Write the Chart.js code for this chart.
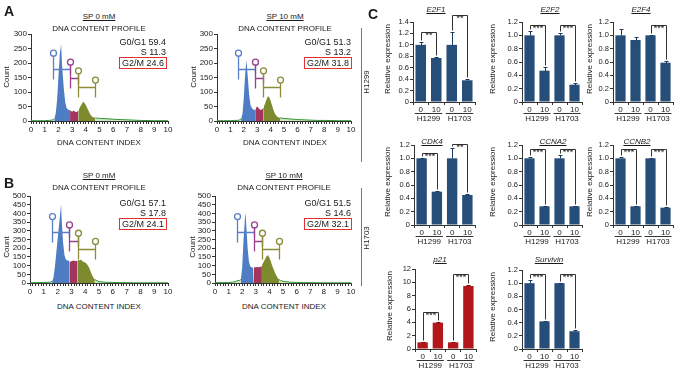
<!DOCTYPE html>
<html>
<head>
<meta charset="utf-8">
<script src="https://cdn.jsdelivr.net/npm/chart.js@4.4.1/dist/chart.umd.min.js"></script>
<style>
  body { margin: 0; width: 677px; height: 373px; background: #fff; position: relative; overflow: hidden;
         font-family: "Liberation Sans", Arial, sans-serif; color: #1a1a1a; }
  canvas { position: absolute; }
  .lbl { position: absolute; white-space: nowrap; line-height: 1; transform: translate(-50%, -50%); }
  .rot { transform: translate(-50%, -50%) rotate(-90deg); }
  .right { transform: translate(-100%, -50%); }
  .panel { font-weight: bold; font-size: 14px; }
  .gene { font-style: italic; text-decoration: underline; font-size: 8px; }
  .sp { text-decoration: underline; font-size: 8px; }
  .small { font-size: 8px; }
  .stat { font-size: 9px; }
  .box { border: 1px solid #e03030; padding: 1px 2px 0 2px; }
  .vline { position: absolute; width: 0; border-left: 1px solid #777; }
</style>
</head>
<body>
<script>
Chart.defaults.font.family = '"Liberation Sans", Arial, sans-serif';
Chart.defaults.color = '#1a1a1a';

// ---- panel A / B : DNA content histograms
const dnaIndex = [0, 0.5, 1.0, 1.3, 1.5, 1.6, 1.7, 1.8, 1.9, 2.0, 2.1, 2.2, 2.25, 2.3, 2.4, 2.5, 2.6, 2.7, 2.8, 2.85,
                  2.9, 3.0, 3.1, 3.2, 3.3, 3.4, 3.45, 3.5, 3.6, 3.7, 3.8, 3.9, 4.0, 4.1, 4.2, 4.3, 4.4, 4.5, 4.6, 4.7,
                  4.8, 5.0, 5.5, 6.0, 6.5, 7.0, 7.5, 8.0, 9.0, 10.0];
const countH1299_0 = [1, 1, 1, 2, 3, 4, 8, 25, 70, 150, 230, 265, 210, 170, 110, 65, 45, 40, 38, 36,
                      35, 32, 36, 33, 30, 34, 36, 40, 50, 58, 66, 62, 55, 45, 35, 25, 18, 14, 12, 11,
                      10, 9, 8, 6, 5, 4, 3, 2, 1, 1];
const countH1299_10 = [1, 1, 1, 2, 2, 3, 4, 8, 25, 80, 160, 210, 180, 150, 90, 55, 45, 40, 38, 40,
                       45, 50, 45, 40, 38, 42, 45, 50, 62, 75, 85, 82, 70, 55, 40, 28, 20, 15, 12, 11,
                       10, 9, 7, 5, 4, 3, 2, 2, 1, 1];
const countH1703_0 = [2, 2, 3, 4, 6, 10, 30, 90, 170, 250, 330, 410, 452, 360, 230, 160, 135, 130, 128, 125,
                      122, 125, 128, 130, 125, 128, 130, 132, 130, 135, 125, 120, 118, 110, 100, 85, 65, 45, 30, 20,
                      15, 8, 4, 3, 2, 2, 1, 1, 1, 1];
const countH1703_10 = [2, 2, 3, 5, 8, 12, 14, 15, 20, 90, 250, 370, 404, 330, 200, 120, 95, 90, 88, 88,
                       90, 90, 92, 90, 92, 95, 100, 110, 125, 140, 155, 160, 145, 125, 100, 80, 60, 45, 30, 20,
                       15, 10, 5, 3, 2, 2, 1, 1, 1, 1];
const statsH1299_0 = ['G0/G1 59.4', 'S 11.3', 'G2/M 24.6'];
const statsH1299_10 = ['G0/G1 51.3', 'S 13.2', 'G2/M 31.8'];
const statsH1703_0 = ['G0/G1 57.1', 'S 17.8', 'G2/M 24.1'];
const statsH1703_10 = ['G0/G1 51.5', 'S 14.6', 'G2/M 32.1'];
// gate limits on the DNA index axis: G0/G1 | S | G2/M
const gateLimits = [1.6, 2.85, 3.45, 4.68];
const gateCircles300 = [234, 203, 173, 141];
const gateBars300 = [178, 150, 116];
const gateCircles500 = [382, 334, 286, 239];
const gateBars500 = [292, 244, 195];

// ---- panel C : relative expression (0 / 10 mM in H1299 and H1703)
const doseLabels = ['0', '10', '0', '10'];
const cellLines = ['H1299', 'H1703'];
const e2f1 = [1.0, 0.77, 1.0, 0.38],      e2f1Err = [0.05, 0.01, 0.23, 0.02];
const e2f2 = [1.0, 0.47, 1.0, 0.26],      e2f2Err = [0.07, 0.06, 0.03, 0.03];
const e2f4 = [1.0, 0.93, 1.0, 0.59],      e2f4Err = [0.09, 0.05, 0.01, 0.02];
const cdk4 = [1.0, 0.50, 1.0, 0.45],      cdk4Err = [0.01, 0.01, 0.15, 0.01];
const ccna2 = [1.0, 0.28, 1.0, 0.28],     ccna2Err = [0.02, 0.01, 0.05, 0.01];
const ccnb2 = [1.0, 0.28, 1.0, 0.26],     ccnb2Err = [0.02, 0.01, 0.01, 0.01];
const p21 = [1.0, 3.95, 1.0, 9.45],       p21Err = [0.05, 0.1, 0.05, 0.2];
const survivin = [1.0, 0.42, 1.0, 0.27],  survivinErr = [0.05, 0.01, 0.01, 0.02];
// significance: [bar a, bar b, stars, bracket level]
const e2f1Sig = [[0, 1, '**', 1.23], [2, 3, '**', 1.52]];
const e2f2Sig = [[0, 1, '***', 1.16], [2, 3, '***', 1.16]];
const e2f4Sig = [[2, 3, '***', 1.16]];
const cdk4Sig = [[0, 1, '***', 1.08], [2, 3, '**', 1.22]];
const ccna2Sig = [[0, 1, '***', 1.14], [2, 3, '***', 1.14]];
const ccnb2Sig = [[0, 1, '***', 1.14], [2, 3, '***', 1.14]];
const p21Sig = [[0, 1, '***', 5.6], [2, 3, '***', 11.2]];
const survivinSig = [[0, 1, '***', 1.14], [2, 3, '***', 1.14]];

function addCanvas(left, top, w, h) {
    const c = document.createElement('canvas');
    c.width = w; c.height = h;
    c.style.left = left + 'px'; c.style.top = top + 'px';
    c.style.width = w + 'px'; c.style.height = h + 'px';
    document.body.appendChild(c);
    return c;
}

function addText(txt, x, y, cls) {
    const d = document.createElement('div');
    d.className = 'lbl ' + cls;
    d.textContent = txt;
    d.style.left = x + 'px'; d.style.top = y + 'px';
    document.body.appendChild(d);
    return d;
}

function addLine(x, y1, y2) {
    const d = document.createElement('div');
    d.className = 'vline';
    d.style.left = x + 'px'; d.style.top = y1 + 'px'; d.style.height = (y2 - y1) + 'px';
    document.body.appendChild(d);
}

// gate markers (circle + bracket) drawn through the chart scales
const gatePlugin = {
    id: 'gates',
    afterDatasetsDraw(chart, args, o) {
        const { ctx, scales: { x, y } } = chart;
        const cols = ['#5a7ec9', '#9a3f8e', '#8b8b3a'];
        ctx.save();
        ctx.lineWidth = 1.3;
        for (let i = 0; i < 3; i++) {
            const xl = Math.round(x.getPixelForValue(gateLimits[i])) + 0.5;
            const xr = Math.round(x.getPixelForValue(gateLimits[i + 1])) + 0.5;
            const yc = y.getPixelForValue(o.circles[i]);
            const yb = Math.round(y.getPixelForValue(o.bars[i])) + 0.5;
            ctx.strokeStyle = cols[i];
            ctx.beginPath();
            ctx.moveTo(xl, yc + 3); ctx.lineTo(xl, yb + 10);
            ctx.moveTo(xl, yb); ctx.lineTo(xr, yb);
            if (i < 2) { ctx.moveTo(xr, yb - 5); ctx.lineTo(xr, yb + 5); }
            ctx.stroke();
            ctx.beginPath(); ctx.arc(xl, yc, 3, 0, Math.PI * 2); ctx.stroke();
            if (i === 2) {
                const yc2 = y.getPixelForValue(o.circles[3]);
                ctx.beginPath();
                ctx.moveTo(xr, yc2 + 3); ctx.lineTo(xr, yb + 10);
                ctx.stroke();
                ctx.beginPath(); ctx.arc(xr, yc2, 3, 0, Math.PI * 2); ctx.stroke();
            }
        }
        ctx.restore();
    }
};

function histChart(rect, counts, yMax, yStep, g1From, circles, bars) {
    const yW = 24, padT = 6, padR = 8, xH = 12;
    const left = rect.l - yW, top = rect.t - padT;
    const cv = addCanvas(left, top, rect.r + padR - left, rect.b + xH - top);
    const pts = dnaIndex.map((x, i) => ({ x: x, y: counts[i] }));
    const part = (a, b) => pts.filter(p => p.x >= a && p.x <= b);
    const area = (data, color) => ({ data: data, backgroundColor: color, borderWidth: 0, pointRadius: 0, fill: 'origin', order: 1 });
    const rest = data => ({ data: data, borderColor: '#2f9a2f', backgroundColor: 'rgba(110,180,80,0.35)', borderWidth: 1,
                            pointRadius: 0, fill: 'origin', order: 5 });
    new Chart(cv, {
        type: 'line',
        data: {
            datasets: [
                area(part(g1From, gateLimits[1]), '#4f7dc4'),
                area(part(gateLimits[1], gateLimits[2]), '#a3355e'),
                area(part(gateLimits[2], 4.7), '#7e8a2e'),
                rest(part(0, g1From)),
                rest(part(4.7, 10))
            ]
        },
        options: {
            responsive: false, animation: false, devicePixelRatio: 1,
            layout: { padding: { top: padT, right: padR, left: 0, bottom: 0 } },
            plugins: { legend: { display: false }, tooltip: { enabled: false }, gates: { circles: circles, bars: bars } },
            scales: {
                x: {
                    type: 'linear', min: 0, max: 10,
                    afterFit: s => { s.height = xH; },
                    grid: { drawOnChartArea: false, tickLength: 3, color: '#333' },
                    border: { color: '#333' },
                    ticks: {
                        stepSize: 0.2, autoSkip: false, maxRotation: 0, padding: 1, font: { size: 8 }, color: '#222',
                        callback: v => Math.abs(v - Math.round(v)) < 1e-6 ? String(Math.round(v)) : ''
                    }
                },
                y: {
                    min: 0, max: yMax,
                    afterFit: s => { s.width = yW; },
                    grid: { drawOnChartArea: false, tickLength: 3, color: '#333' },
                    border: { color: '#333' },
                    ticks: { stepSize: yStep, autoSkip: false, padding: 1, font: { size: 8 }, color: '#222' }
                }
            }
        },
        plugins: [gatePlugin]
    });
}

// error bars, significance brackets and cell line groups
const barExtras = {
    id: 'extras',
    afterDatasetsDraw(chart, args, o) {
        const { ctx, scales: { y }, chartArea } = chart;
        const bars = chart.getDatasetMeta(0).data;
        const px = v => Math.round(y.getPixelForValue(v)) + 0.5;
        ctx.save();
        ctx.lineWidth = 1;
        ctx.strokeStyle = o.errColor;
        o.vals.forEach((v, i) => {
            const bx = Math.round(bars[i].x) + 0.5;
            const t = px(v + o.errs[i]);
            ctx.beginPath();
            ctx.moveTo(bx, px(v)); ctx.lineTo(bx, t);
            ctx.moveTo(bx - 2, t); ctx.lineTo(bx + 2, t);
            ctx.stroke();
        });
        ctx.strokeStyle = '#333';
        ctx.fillStyle = '#222';
        ctx.textAlign = 'center';
        o.sig.forEach(s => {
            const x1 = Math.round(bars[s[0]].x) + 0.5, x2 = Math.round(bars[s[1]].x) + 0.5;
            const yl = px(s[3]);
            ctx.beginPath();
            ctx.moveTo(x1, px(o.vals[s[0]] + o.errs[s[0]]) - 2);
            ctx.lineTo(x1, yl); ctx.lineTo(x2, yl);
            ctx.lineTo(x2, px(o.vals[s[1]] + o.errs[s[1]]) - 2);
            ctx.stroke();
            ctx.font = '9px "Liberation Sans", Arial, sans-serif';
            ctx.textBaseline = 'alphabetic';
            ctx.fillText(s[2], (x1 + x2) / 2, yl + 5);
        });
        // groups under the dose labels
        ctx.font = '8px "Liberation Sans", Arial, sans-serif';
        const yu = Math.round(chartArea.bottom + 11) + 0.5;
        cellLines.forEach((name, g) => {
            const a = bars[g * 2].x - 6, b = bars[g * 2 + 1].x + 6;
            ctx.beginPath(); ctx.moveTo(a, yu); ctx.lineTo(b, yu); ctx.stroke();
            ctx.textBaseline = 'top';
            ctx.fillText(name, (a + b) / 2, yu + 1);
        });
        ctx.restore();
    }
};

function barChart(rect, vals, errs, sig, yMax, yStep, color, errColor, fmt) {
    const yW = 18, padT = 20, padR = 4, xH = 22;
    const left = rect.l - yW, top = rect.t - padT;
    const cv = addCanvas(left, top, rect.r + padR - left, rect.b + xH - top);
    new Chart(cv, {
        type: 'bar',
        data: {
            labels: doseLabels,
            datasets: [{ data: vals, backgroundColor: color, barPercentage: 0.68, categoryPercentage: 1 }]
        },
        options: {
            responsive: false, animation: false, devicePixelRatio: 1,
            layout: { padding: { top: padT, right: padR, left: 0, bottom: 0 } },
            plugins: { legend: { display: false }, tooltip: { enabled: false },
                       extras: { vals: vals, errs: errs, sig: sig, errColor: errColor } },
            scales: {
                x: {
                    afterFit: s => { s.height = xH; },
                    grid: { offset: true, drawOnChartArea: false, tickLength: 3, color: '#333' },
                    border: { color: '#333' },
                    ticks: { padding: 0, font: { size: 8 }, color: '#222', maxRotation: 0, autoSkip: false }
                },
                y: {
                    min: 0, max: yMax,
                    afterFit: s => { s.width = yW; },
                    grid: { drawOnChartArea: false, tickLength: 3, color: '#333' },
                    border: { color: '#333' },
                    ticks: { stepSize: yStep, autoSkip: false, padding: 1, font: { size: 7.5 }, color: '#222',
                             callback: v => v === 0 ? '0' : fmt(v) }
                }
            }
        },
        plugins: [barExtras]
    });
}

// ---------- panel A (H1299) and B (H1703)
histChart({ l: 31, t: 34, r: 168, b: 121 }, countH1299_0, 300, 50, 1.7, gateCircles300, gateBars300);
histChart({ l: 217, t: 34, r: 351, b: 121 }, countH1299_10, 300, 50, 1.8, gateCircles300, gateBars300);
histChart({ l: 30, t: 196, r: 168, b: 283 }, countH1703_0, 500, 50, 1.6, gateCircles500, gateBars500);
histChart({ l: 215, t: 196, r: 351, b: 283 }, countH1703_10, 500, 50, 1.9, gateCircles500, gateBars500);

const histText = [
    { sp: 'SP 0 mM', cx: 99, y0: 17, stats: statsH1299_0, sx: 166, sy: 42 },
    { sp: 'SP 10 mM', cx: 285, y0: 17, stats: statsH1299_10, sx: 351, sy: 42 },
    { sp: 'SP 0 mM', cx: 99, y0: 176, stats: statsH1703_0, sx: 166, sy: 203 },
    { sp: 'SP 10 mM', cx: 284, y0: 176, stats: statsH1703_10, sx: 351, sy: 203 }
];
histText.forEach(h => {
    addText(h.sp, h.cx, h.y0, 'sp');
    addText('DNA CONTENT PROFILE', h.cx, h.y0 + 12, 'small');
    addText('DNA CONTENT INDEX', h.cx, h.y0 + 126 + (h.y0 > 100 ? 5 : 0), 'small');
    addText('Count', h.cx - (h.cx < 150 ? 92 : 91), h.y0 + 60 + (h.y0 > 100 ? 11 : 0), 'small rot');
    addText(h.stats[0], h.sx, h.sy, 'stat right');
    addText(h.stats[1], h.sx, h.sy + 10, 'stat right');
    addText(h.stats[2], h.sx + 1, h.sy + 21, 'stat right box');
});
addText('A', 9, 11, 'panel');
addText('B', 9, 183, 'panel');
addLine(361, 28, 162);
addText('H1299', 367, 82, 'small rot');
addLine(361, 188, 286);
addText('H1703', 367, 238, 'small rot');

// ---------- panel C
addText('C', 373, 14, 'panel');
const dec1 = v => v.toFixed(1);
const int0 = v => String(v);
const blue = '#264e78', navy = '#1b3a5c';
const genes = [
    { name: 'E2F1', v: e2f1, e: e2f1Err, s: e2f1Sig, max: 1.4, step: 0.2, r: { l: 413, t: 22, r: 475, b: 102 }, tx: 436, ty: 10, lx: 388 },
    { name: 'E2F2', v: e2f2, e: e2f2Err, s: e2f2Sig, max: 1.2, step: 0.2, r: { l: 522, t: 22, r: 582, b: 102 }, tx: 550, ty: 10, lx: 493 },
    { name: 'E2F4', v: e2f4, e: e2f4Err, s: e2f4Sig, max: 1.2, step: 0.2, r: { l: 613, t: 22, r: 673, b: 102 }, tx: 641, ty: 10, lx: 590 },
    { name: 'CDK4', v: cdk4, e: cdk4Err, s: cdk4Sig, max: 1.2, step: 0.2, r: { l: 414, t: 145, r: 475, b: 225 }, tx: 432, ty: 142, lx: 388 },
    { name: 'CCNA2', v: ccna2, e: ccna2Err, s: ccna2Sig, max: 1.2, step: 0.2, r: { l: 522, t: 145, r: 582, b: 225 }, tx: 553, ty: 142, lx: 493 },
    { name: 'CCNB2', v: ccnb2, e: ccnb2Err, s: ccnb2Sig, max: 1.2, step: 0.2, r: { l: 613, t: 145, r: 673, b: 225 }, tx: 637, ty: 142, lx: 590 },
    { name: 'p21', v: p21, e: p21Err, s: p21Sig, max: 12, step: 2, r: { l: 415, t: 269, r: 476, b: 349 }, tx: 440, ty: 260, lx: 390, red: true },
    { name: 'Survivin', v: survivin, e: survivinErr, s: survivinSig, max: 1.2, step: 0.2, r: { l: 522, t: 270, r: 582, b: 349 }, tx: 549, ty: 260, lx: 493 }
];
genes.forEach(g => {
    barChart(g.r, g.v, g.e, g.s, g.max, g.step, g.red ? '#b3171c' : blue, g.red ? '#7a0f12' : navy,
             g.max > 5 ? int0 : dec1);
    addText(g.name, g.tx, g.ty, 'gene');
    addText('Relative expression', g.lx, (g.r.t + g.r.b) / 2 - 3, 'small rot');
});
</script>
</body>
</html>
